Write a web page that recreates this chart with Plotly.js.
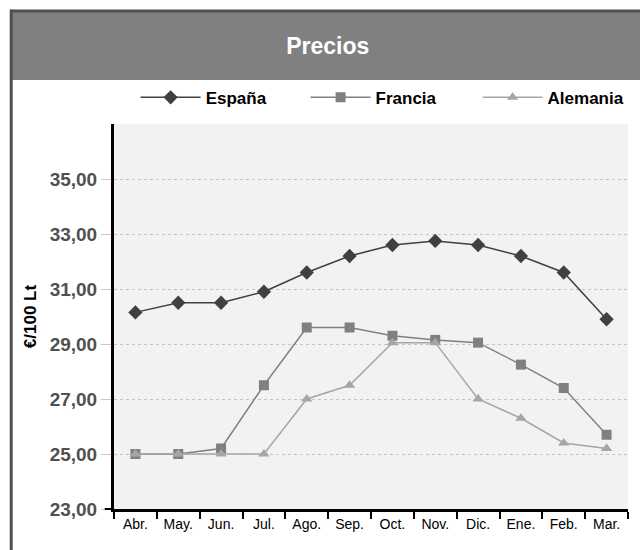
<!DOCTYPE html>
<html>
<head>
<meta charset="utf-8">
<script src="https://cdn.plot.ly/plotly-3.0.1.min.js"></script>
<style>html,body{margin:0;padding:0;background:#fff;}#chart{width:640px;height:550px;}</style>
</head>
<body>
<div id="chart"></div>
<script>
var months = ["Abr.", "May.", "Jun.", "Jul.", "Ago.", "Sep.", "Oct.", "Nov.", "Dic.", "Ene.", "Feb.", "Mar."];
var espana   = [30.15, 30.5, 30.5, 30.9, 31.6, 32.2, 32.6, 32.75, 32.6, 32.2, 31.6, 29.9];
var francia  = [25.0, 25.0, 25.2, 27.5, 29.6, 29.6, 29.3, 29.15, 29.05, 28.25, 27.4, 25.7];
var alemania = [25.0, 25.0, 25.0, 25.0, 27.0, 27.5, 29.05, 29.05, 27.0, 26.3, 25.4, 25.2];
var seriesNames = ["España", "Francia", "Alemania"];
var yTicks = [23, 25, 27, 29, 31, 33, 35];
var yTickText = ["23,00", "25,00", "27,00", "29,00", "31,00", "33,00", "35,00"];

var FONT = "Liberation Sans, Arial, sans-serif";

var traces = [
  {x: months, y: espana, name: "<b>" + seriesNames[0] + "</b>", type: "scatter", mode: "lines+markers",
   legend: "legend",
   line: {color: "#404040", width: 1.5}, marker: {symbol: "diamond", size: 11, color: "#404040"}},
  {x: months, y: francia, name: "<b>" + seriesNames[1] + "</b>", type: "scatter", mode: "lines+markers",
   legend: "legend2",
   line: {color: "#808080", width: 1.5}, marker: {symbol: "square", size: 10, color: "#808080"}},
  {x: months, y: alemania, name: "<b>" + seriesNames[2] + "</b>", type: "scatter", mode: "lines+markers",
   legend: "legend3",
   line: {color: "#a6a6a6", width: 1.5}, marker: {symbol: "triangle-up", size: 10, color: "#a6a6a6"}}
];

function legendAt(xp) {
  return {orientation: "h", x: xp, xanchor: "left", y: 1.068, yanchor: "middle",
          font: {family: FONT, size: 17, color: "#000"}, itemwidth: 60,
          bgcolor: "rgba(0,0,0,0)", borderwidth: 0};
}

var layout = {
  width: 640, height: 550,
  margin: {l: 114, r: 11, t: 124, b: 41},
  paper_bgcolor: "#ffffff",
  plot_bgcolor: "#f2f2f2",
  font: {family: FONT, color: "#000"},
  title: {text: "<b>Precios</b>", font: {family: FONT, size: 23, color: "#ffffff"},
          x: 0.512, xanchor: "center", y: 0.917, yanchor: "middle"},
  showlegend: true,
  legend: legendAt(0.042),
  legend2: legendAt(0.372),
  legend3: legendAt(0.706),
  xaxis: {type: "category", range: [-0.5, 11.5], tickson: "boundaries", ticks: "outside",
          ticklen: 7, tickwidth: 2, tickcolor: "#000", showline: true, linecolor: "#000", linewidth: 3,
          showgrid: false, zeroline: false, fixedrange: true, tickangle: 0,
          tickfont: {family: FONT, size: 14, color: "#000"}},
  yaxis: {range: [23, 37], tickvals: yTicks, ticktext: yTickText, ticks: "outside", ticklen: 10,
          tickwidth: 1, tickcolor: "#c8c8c8", showline: true, linecolor: "#000", linewidth: 3,
          showgrid: true, gridcolor: "#c4c4c4", griddash: "dot", gridwidth: 1, zeroline: false,
          tickfont: {family: FONT, size: 19, color: "#505050", weight: "bold"},
          title: {text: "<b>€/100 Lt</b>", font: {family: FONT, size: 17, color: "#000"}, standoff: 9}},
  shapes: [
    {type: "rect", xref: "paper", yref: "paper", x0: -0.199, x1: 1.03, y0: 1.1143, y1: 1.292,
     fillcolor: "#808080", line: {width: 0}, layer: "below"},
    {type: "line", xref: "paper", yref: "paper", x0: -0.2, x1: 1.03, y0: 1.2935, y1: 1.2935,
     line: {color: "#505050", width: 3}},
    {type: "line", xref: "paper", yref: "paper", x0: -0.2, x1: -0.2, y0: -0.15, y1: 1.2975,
     line: {color: "#505050", width: 3}},
    {type: "line", xref: "paper", yref: "paper", x0: -0.018, x1: 0, y0: 0, y1: 0,
     line: {color: "#000", width: 2}}
  ]
};

Plotly.newPlot("chart", traces, layout, {displayModeBar: false, staticPlot: true});
</script>
</body>
</html>
